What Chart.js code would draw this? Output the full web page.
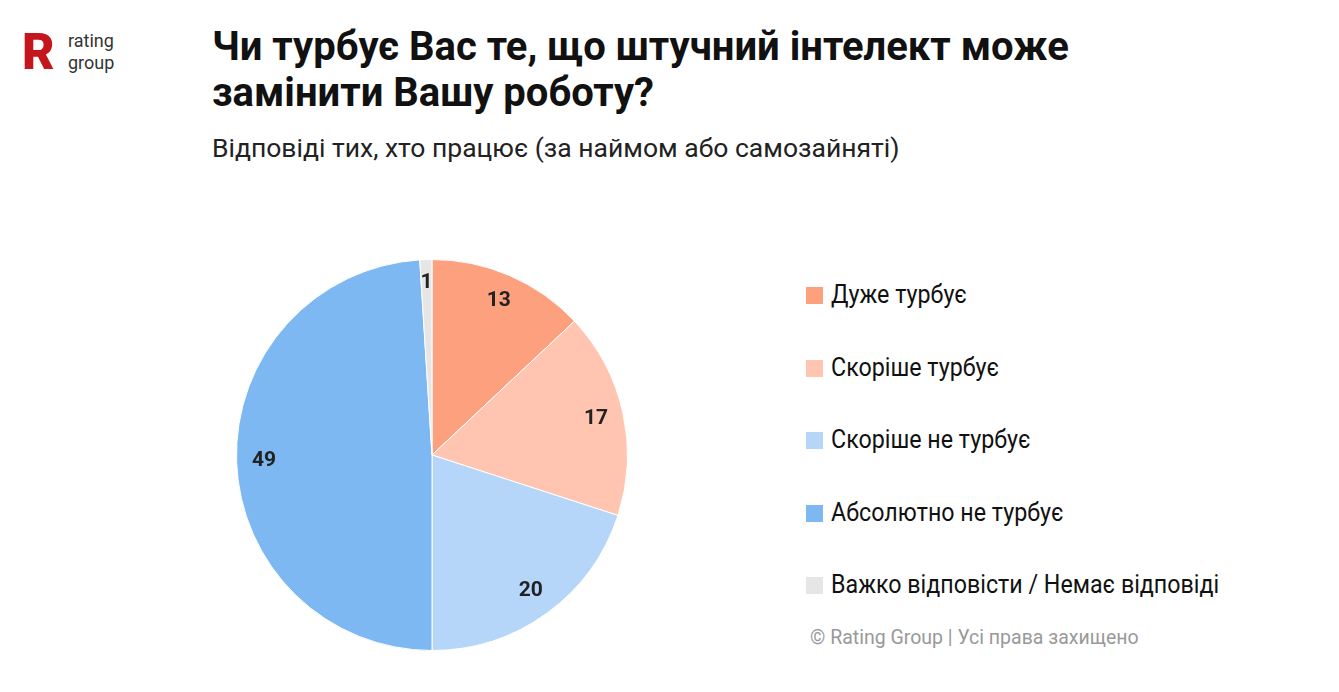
<!DOCTYPE html>
<html>
<head>
<meta charset="utf-8">
<script src="https://cdn.jsdelivr.net/npm/chart.js@4"></script>
<style>
  body { margin: 0; width: 1339px; height: 692px; background: #fff; font-family: Roboto, sans-serif; position: relative; overflow: hidden; }
  #logo { position: absolute; left: 22px; top: 30px; }
  #logo .r { position: absolute; left: 0; top: 2px; width: 42px; height: 40px; font: 900 50px/40px Roboto; color: #c4161c; }
  #logo .t { position: absolute; left: 46px; top: 0; font: 400 18px/22px Roboto; color: #333; }
  h1 { position: absolute; left: 212px; top: 24px; margin: 0; font: 700 40px/46px Roboto; color: #111; }
  #sub { position: absolute; left: 212px; top: 132px; font: 400 26.5px Roboto; color: #222; }
  #chartBox { position: absolute; left: 222px; top: 245px; width: 420px; height: 420px; }
  #legend { position: absolute; left: 806px; top: 280px; }
  .item { height: 72.5px; display: flex; align-items: flex-start; }
  .box { width: 17px; height: 17px; margin-top: 7px; margin-right: 8px; }
  .lbl { font: 400 25px Roboto; color: #111; transform: scaleX(0.93); transform-origin: left; white-space: nowrap; }
  #foot { position: absolute; left: 810px; top: 626px; font: 400 19.5px Roboto; color: #999; }
</style>
</head>
<body>
<div id="logo"><div class="r">R</div><div class="t">rating<br>group</div></div>
<h1>Чи турбує Вас те, що штучний інтелект може<br>замінити Вашу роботу?</h1>
<div id="sub">Відповіді тих, хто працює (за наймом або самозайняті)</div>
<div id="chartBox"><canvas id="pie"></canvas></div>
<div id="legend"></div>
<div id="foot">© Rating Group | Усі права захищено</div>
<script>
const labels = ['Дуже турбує', 'Скоріше турбує', 'Скоріше не турбує', 'Абсолютно не турбує', 'Важко відповісти / Немає відповіді'];
const values = [13, 17, 20, 49, 1];
const colors = ['#FCA07E', '#FFC5B1', '#B5D6F8', '#7EB8F2', '#E6E6E6'];

const legend = document.getElementById('legend');
labels.forEach((l, i) => {
  const row = document.createElement('div');
  row.className = 'item';
  row.innerHTML = `<div class="box" style="background:${colors[i]}"></div><div class="lbl">${l}</div>`;
  legend.appendChild(row);
});

const sliceLabels = {
  id: 'sliceLabels',
  afterDatasetsDraw(chart) {
    const ctx = chart.ctx;
    const meta = chart.getDatasetMeta(0);
    ctx.save();
    ctx.font = 'bold 21px Roboto';
    ctx.fillStyle = '#222';
    ctx.textAlign = 'center';
    ctx.textBaseline = 'middle';
    meta.data.forEach((arc, i) => {
      const p = arc.getProps(['x', 'y', 'startAngle', 'endAngle', 'outerRadius']);
      const a = (p.startAngle + p.endAngle) / 2;
      const f = values[i] < 3 ? 0.88 : 0.86;
      ctx.fillText(values[i], p.x + Math.cos(a) * p.outerRadius * f, p.y + Math.sin(a) * p.outerRadius * f);
    });
    ctx.restore();
  }
};

new Chart(document.getElementById('pie'), {
  type: 'pie',
  data: {
    labels: labels,
    datasets: [{
      data: values,
      backgroundColor: colors,
      borderColor: '#fff',
      borderWidth: 1
    }]
  },
  options: {
    responsive: true,
    maintainAspectRatio: false,
    animation: false,
    layout: { padding: 14 },
    plugins: { legend: { display: false }, tooltip: { enabled: false } }
  },
  plugins: [sliceLabels]
});
</script>
</body>
</html>
